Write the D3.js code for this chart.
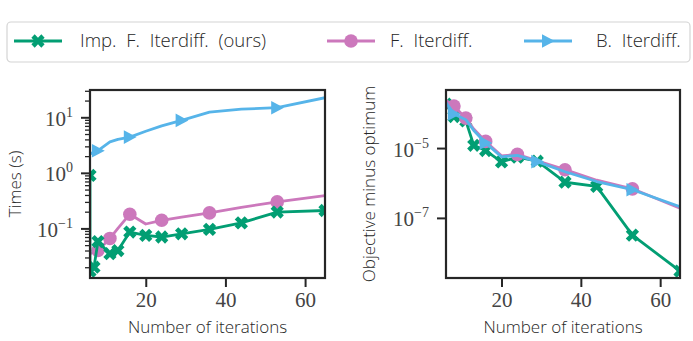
<!DOCTYPE html>
<html>
<head>
<meta charset="utf-8">
<script src="https://cdn.jsdelivr.net/npm/d3@7"></script>
<style>
  body { margin: 0; background: #fff; }
  svg { display: block; }
</style>
</head>
<body>
<svg id="chart" width="693" height="341"></svg>
<script>
// iterations used by most series
const iters = [6, 8, 11, 13, 16, 20, 24, 29, 36, 44, 53, 65];
// the "ours" timing curve has two extra early points
const itersImpTime = [6, 6, 7, 8, 11, 13, 16, 20, 24, 29, 36, 44, 53, 65];

// left panel: times (s)
const timeImp = [0.9, 0.017, 0.02, 0.058, 0.035, 0.04, 0.086, 0.075, 0.07, 0.08, 0.096, 0.126, 0.197, 0.21];
const timeF   = [0.035, 0.04, 0.066, 0.1, 0.18, 0.12, 0.14, 0.16, 0.19, 0.24, 0.30, 0.39];
const timeB   = [2.2, 2.5, 3.6, 4.0, 4.4, 5.6, 7.0, 8.8, 12.4, 14.0, 14.9, 22.5];

// right panel: objective minus optimum
const gapImp = [1.8e-4, 8e-5, 6e-5, 1.2e-5, 8.5e-6, 4e-6, 5.5e-6, 4.2e-6, 1.05e-6, 8e-7, 3.2e-8, 3e-9];
const gapF   = [2.3e-4, 1.6e-4, 7.2e-5, 3.5e-5, 1.55e-5, 6e-6, 6.6e-6, 4.3e-6, 2.4e-6, 1.2e-6, 6.8e-7, 1.9e-7];
const gapB   = [2.0e-4, 9.5e-5, 6.5e-5, 3.2e-5, 1.4e-5, 5.6e-6, 6.2e-6, 4.1e-6, 2.1e-6, 1.1e-6, 6.4e-7, 2.1e-7];

// which points get a marker (matplotlib markevery-ish)
const markF = [1, 2, 4, 6, 8, 10];
const markB = [1, 4, 7, 10];

const labels = ["Imp. F. Iterdiff. (ours)", "F. Iterdiff.", "B. Iterdiff."];
const xTicks = [20, 40, 60];
const yTicksTime = [-1, 0, 1];   // exponents
const yTicksGap = [-7, -5];

const GREEN = "#029e73", PINK = "#cc78bc", BLUE = "#56b4e9";
const INK = "#262626";
const SANS = "'Open Sans', 'DejaVu Sans', sans-serif";
const SERIF = "'Liberation Serif', 'DejaVu Serif', serif";

const svg = d3.select("#chart");

function marker(sel, kind, color) {
    if (kind === "x") {
        sel.append("path")
            .attr("d", d3.symbol(d3.symbolCross, 110)())
            .attr("transform", "rotate(45)")
            .attr("fill", color);
    } else if (kind === "o") {
        sel.append("circle").attr("r", 6.8).attr("fill", color);
    } else {
        sel.append("path").attr("d", "M-6,-6.8L6.8,0L-6,6.8Z").attr("fill", color);
    }
}

function superLabel(textSel, exps) {
    textSel.text("");
    textSel.each(function(d, i) {
        const t = d3.select(this);
        t.append("tspan").text("10");
        t.append("tspan")
            .attr("dy", -9)
            .attr("font-size", 14)
            .text(String(exps[i]).replace("-", "\u2212"));
    });
}

function panel(opts) {
    const {x0, x1, y0, y1, yDomain, majors, minors, id} = opts;
    const x = d3.scaleLinear([6, 65], [x0, x1]);
    const y = d3.scaleLog(yDomain, [y1, y0]);
    const g = svg.append("g");

    g.append("clipPath").attr("id", id)
        .append("rect").attr("x", x0).attr("y", y0).attr("width", x1 - x0).attr("height", y1 - y0);

    // minor ticks (left axis)
    if (minors.length) {
        g.append("g")
            .attr("transform", `translate(${x0},0)`)
            .call(d3.axisLeft(y).tickValues(minors).tickSize(5).tickFormat(""))
            .call(a => a.select(".domain").remove())
            .call(a => a.selectAll("line").attr("stroke", INK).attr("stroke-width", 1.3));
    }

    const yAx = g.append("g")
        .attr("transform", `translate(${x0},0)`)
        .call(d3.axisLeft(y).tickValues(majors.map(e => Math.pow(10, e))).tickSize(9).tickPadding(8))
        .call(a => a.select(".domain").remove());
    yAx.selectAll("line").attr("stroke", INK).attr("stroke-width", 2);
    yAx.selectAll("text")
        .attr("font-family", SERIF).attr("font-size", 21).attr("fill", "#444")
        .attr("dy", "0.38em")
        .call(superLabel, majors);

    const xAx = g.append("g")
        .attr("transform", `translate(0,${y1})`)
        .call(d3.axisBottom(x).tickValues(xTicks).tickSize(9).tickPadding(5))
        .call(a => a.select(".domain").remove());
    xAx.selectAll("line").attr("stroke", INK).attr("stroke-width", 2);
    xAx.selectAll("text").attr("font-family", SERIF).attr("font-size", 21).attr("fill", "#444");

    const plot = g.append("g").attr("clip-path", `url(#${id})`);
    const line = d3.line().x(d => x(d[0])).y(d => y(d[1]));

    opts.series.forEach(s => {
        const pts = s.xs.map((v, i) => [v, s.ys[i]]);
        plot.append("path").datum(pts)
            .attr("d", line)
            .attr("fill", "none")
            .attr("stroke", s.color)
            .attr("stroke-width", 2.8)
            .attr("stroke-linejoin", "round");
        const shown = s.marks ? s.marks.map(i => pts[i]) : pts;
        plot.selectAll(null).data(shown).join("g")
            .attr("transform", d => `translate(${x(d[0])},${y(d[1])})`)
            .each(function() { marker(d3.select(this), s.kind, s.color); });
    });

    g.append("rect")
        .attr("x", x0).attr("y", y0).attr("width", x1 - x0).attr("height", y1 - y0)
        .attr("fill", "none").attr("stroke", INK).attr("stroke-width", 2.2);

    g.append("text")
        .attr("x", (x0 + x1) / 2).attr("y", 333)
        .attr("text-anchor", "middle")
        .attr("font-family", SANS).attr("font-weight", 300).attr("font-size", 17).attr("fill", INK)
        .text("Number of iterations");

    g.append("text")
        .attr("transform", `translate(${opts.ylabX},${(y0 + y1) / 2}) rotate(-90)`)
        .attr("text-anchor", "middle")
        .attr("font-family", SANS).attr("font-weight", 300).attr("font-size", 17).attr("fill", INK)
        .text(opts.ylabel);
}

// minor ticks of the timing axis: 2..9 in each decade
const minorTime = [];
[-2, -1, 0, 1].forEach(e => {
    for (let m = 2; m <= 9; m++) minorTime.push(m * Math.pow(10, e));
});

panel({
    id: "clipL", x0: 90, x1: 325, y0: 90, y1: 278,
    yDomain: [0.0128, 31], majors: yTicksTime,
    minors: minorTime.filter(v => v > 0.0128 && v < 31),
    ylabel: "Times (s)", ylabX: 21,
    series: [
        {xs: iters, ys: timeB, color: BLUE, kind: "tri", marks: markB},
        {xs: iters, ys: timeF, color: PINK, kind: "o", marks: markF},
        {xs: itersImpTime, ys: timeImp, color: GREEN, kind: "x"}
    ]
});

panel({
    id: "clipR", x0: 446, x1: 680, y0: 90, y1: 278,
    yDomain: [1.9e-9, 4.6e-4], majors: yTicksGap, minors: [],
    ylabel: "Objective minus optimum", ylabX: 375,
    series: [
        {xs: iters, ys: gapImp, color: GREEN, kind: "x"},
        {xs: iters, ys: gapF, color: PINK, kind: "o", marks: markF},
        {xs: iters, ys: gapB, color: BLUE, kind: "tri", marks: markB}
    ]
});

// legend
const leg = svg.append("g");
leg.append("rect")
    .attr("x", 7).attr("y", 22).attr("width", 683).attr("height", 40)
    .attr("rx", 4).attr("fill", "#fff").attr("stroke", "#d4d4d4").attr("stroke-width", 1.2);

// TeX puts a little more space after a period
const legItems = [
    {label: labels[0], color: GREEN, kind: "x", lx: 14, tx: 80, w: 202},
    {label: labels[1], color: PINK, kind: "o", lx: 327, tx: 390, w: 88},
    {label: labels[2], color: BLUE, kind: "tri", lx: 524, tx: 596, w: 86}
];
legItems.forEach(it => {
    const gi = leg.append("g");
    gi.append("line")
        .attr("x1", it.lx).attr("x2", it.lx + 48).attr("y1", 41).attr("y2", 41)
        .attr("stroke", it.color).attr("stroke-width", 2.8);
    const m = gi.append("g").attr("transform", `translate(${it.lx + 24},41)`);
    marker(m, it.kind, it.color);
    const t = gi.append("text")
        .attr("x", it.tx).attr("y", 41).attr("dy", "0.35em")
        .attr("font-family", SANS).attr("font-weight", 300).attr("font-size", 18.5).attr("fill", INK)
        .text(it.label);
    const spaces = it.label.split(" ").length - 1;
    const len = t.node().getComputedTextLength();
    const ws = Math.max(0, Math.min(5, (it.w - len) / spaces));
    t.attr("word-spacing", ws.toFixed(1));
});
</script>
</body>
</html>
